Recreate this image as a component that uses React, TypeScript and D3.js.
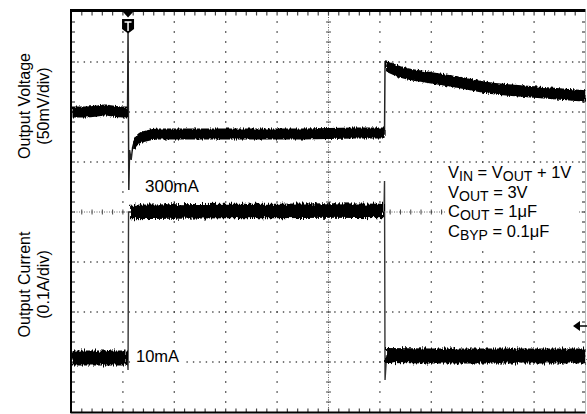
import * as d3 from "d3";

// screen and graticule
const W = 587;
const H = 414;
const X_DIVS = 10;
const Y_DIVS = 8;

// Output voltage (mV from the level before the load step), time in divisions
const voltEdgeT = [0, 1.09, 1.1, 1.115, 1.13, 1.16, 1.19, 1.23, 1.3, 1.45, 6.09, 6.1, 6.13];
const voltEdgeMv = [0, 0, 79, -78, -38, -48, -35, -28, -24, -22, -22, 51, 45];
const voltPreT = [0, 0.25, 0.5, 0.65, 0.8, 1.0, 1.09];
const voltPreMv = [0, 0, 1, 2, 1, 0, 0];
const voltLoadT = [1.2, 1.3, 1.45, 1.7, 2.5, 3.5, 4.5, 5.5, 6.09];
const voltLoadMv = [-34, -27, -24, -22, -22, -22, -22, -21, -21];
const voltRelT = [6.12, 6.4, 6.9, 7.5, 8.0, 8.5, 9.0, 9.5, 10];
const voltRelMv = [46, 40, 35, 30, 25, 22, 20, 18, 16];

// Output current (mA)
const currEdgeT = [0, 1.09, 1.1, 1.11, 1.14, 6.08, 6.09, 6.1, 6.13, 10];
const currEdgeMa = [8, 8, -16, 300, 300, 300, 362, -36, 12, 12];
const currPreT = [0, 0.5, 1.09];
const currPreMa = [8, 8, 8];
const currLoadT = [1.14, 2, 3, 4, 5, 6.08];
const currLoadMa = [300, 301, 302, 302, 303, 302];
const currRelT = [6.12, 7, 8, 9, 10];
const currRelMa = [13, 12, 12, 12, 12];

const zip = (a: number[], b: number[]) => a.map((v, i) => [v, b[i]] as [number, number]);

const x = d3.scaleLinear().domain([0, X_DIVS]).range([71.5, 585.5]);
const yDiv = d3.scaleLinear().domain([-Y_DIVS / 2, Y_DIVS / 2]).range([412, 12]);
const yV = d3.scaleLinear().domain([-300, 100]).range([412, 12]); // 50 mV/div
const yI = d3.scaleLinear().domain([-100, 700]).range([412, 12]); // 0.1 A/div

const FONT = "'Liberation Sans', Arial, Helvetica, sans-serif";

function band(data: [number, number][], y: d3.ScaleLinear<number, number>, hw: number) {
  return d3
    .area<[number, number]>()
    .x((d) => x(d[0]))
    .y0((d) => y(d[1] - hw))
    .y1((d) => y(d[1] + hw))
    .curve(d3.curveMonotoneX)(data) as string;
}

function edge(data: [number, number][], y: d3.ScaleLinear<number, number>) {
  return d3
    .line<[number, number]>()
    .x((d) => x(d[0]))
    .y((d) => y(d[1]))(data) as string;
}

const Graticule = () => {
  const dots: JSX.Element[] = [];
  const left = x(0), right = x(X_DIVS), top = yDiv(Y_DIVS / 2), bottom = yDiv(-Y_DIVS / 2);
  const xStep = (right - left) / X_DIVS;
  const yStep = (bottom - top) / Y_DIVS;

  // vertical dotted lines
  for (let i = 1; i < X_DIVS; i++) {
    if (i === X_DIVS / 2) continue;
    const gx = x(i);
    for (let k = 1; k < Y_DIVS * 5; k++) {
      dots.push(<rect key={`v${i}-${k}`} x={gx - 0.7} y={top + k * (yStep / 5) - 0.7} width={1.4} height={1.4} fill="#333" />);
    }
  }
  // horizontal dotted lines
  for (let j = 1; j < Y_DIVS; j++) {
    if (j === Y_DIVS / 2) continue;
    const gy = top + j * yStep;
    for (let k = 1; k < X_DIVS * 8; k++) {
      dots.push(<rect key={`h${j}-${k}`} x={left + k * (xStep / 8) - 0.7} y={gy - 0.7} width={1.4} height={1.4} fill="#444" />);
    }
  }
  // centre cross with minor ticks, ticks on the frame
  const cx = x(X_DIVS / 2), cy = yDiv(0);
  const ticks: JSX.Element[] = [];
  for (let k = 1; k < X_DIVS * 5; k++) {
    const tx = left + k * (xStep / 5);
    ticks.push(<line key={`ct${k}`} x1={tx} x2={tx} y1={cy - 2.5} y2={cy + 2.5} stroke="#444" strokeWidth={1} />);
    ticks.push(<line key={`tt${k}`} x1={tx} x2={tx} y1={top} y2={top + 3.5} stroke="#444" strokeWidth={1.2} />);
    ticks.push(<line key={`bt${k}`} x1={tx} x2={tx} y1={bottom - 3.5} y2={bottom} stroke="#444" strokeWidth={1.2} />);
  }
  for (let k = 1; k < Y_DIVS * 5; k++) {
    const ty = top + k * (yStep / 5);
    ticks.push(<line key={`cv${k}`} x1={cx - 2.5} x2={cx + 2.5} y1={ty} y2={ty} stroke="#444" strokeWidth={1} />);
    ticks.push(<line key={`lt${k}`} x1={left} x2={left + 3.5} y1={ty} y2={ty} stroke="#444" strokeWidth={1.2} />);
    ticks.push(<line key={`rt${k}`} x1={right - 3.5} x2={right} y1={ty} y2={ty} stroke="#444" strokeWidth={1.2} />);
  }
  return (
    <g>
      {dots}
      <line x1={left} x2={right} y1={cy} y2={cy} stroke="#666" strokeWidth={1} strokeDasharray="1 1.5" />
      <line x1={cx} x2={cx} y1={top} y2={bottom} stroke="#666" strokeWidth={1} strokeDasharray="1 1.5" />
      {ticks}
    </g>
  );
};

export default function App() {
  const left = x(0), right = x(X_DIVS), top = yDiv(Y_DIVS / 2), bottom = yDiv(-Y_DIVS / 2);
  const trigX = x(voltEdgeT[2]);
  return (
    <svg width={W} height={H} style={{ position: "absolute", left: 0, top: 0, background: "#fff" }} fontFamily={FONT}>
      <defs>
        <filter id="noise" x="-2%" y="-80%" width="104%" height="260%">
          <feTurbulence type="fractalNoise" baseFrequency="1.1 0.12" numOctaves={2} seed={4} result="t" />
          <feDisplacementMap in="SourceGraphic" in2="t" scale={7} xChannelSelector="R" yChannelSelector="G" />
        </filter>
        <filter id="noiseV" x="-2%" y="-80%" width="104%" height="260%">
          <feTurbulence type="fractalNoise" baseFrequency="1.1 0.12" numOctaves={2} seed={9} result="t" />
          <feDisplacementMap in="SourceGraphic" in2="t" scale={4} xChannelSelector="R" yChannelSelector="G" />
        </filter>
      </defs>
      <rect x={0} y={0} width={W} height={H} fill="#fff" />
      <Graticule />

      {/* text backgrounds hide the graticule */}
      <rect x={446} y={164} width={132} height={80} fill="#fff" />
      <rect x={134} y={348} width={48} height={17} fill="#fff" />

      {/* frame */}
      <line x1={left - 1} x2={right} y1={10.5} y2={10.5} stroke="#000" strokeWidth={3} />
      <line x1={left - 0.5} x2={left - 0.5} y1={9} y2={bottom + 1} stroke="#000" strokeWidth={2} />
      <line x1={left - 1} x2={right} y1={bottom + 0.5} y2={bottom + 0.5} stroke="#000" strokeWidth={2} />
      <line x1={right} x2={right} y1={top} y2={bottom} stroke="#bbb" strokeWidth={1} />

      {/* traces: fast edges */}
      <path d={edge(zip(voltEdgeT, voltEdgeMv), yV)} fill="none" stroke="#222" strokeWidth={1.5} />
      <path d={edge(zip(currEdgeT, currEdgeMa), yI)} fill="none" stroke="#333" strokeWidth={1.4} />

      {/* traces: noisy bands */}
      <g filter="url(#noiseV)" fill="#000">
        <path d={band(zip(voltPreT, voltPreMv), yV, 5.6)} />
        <path d={band(zip(voltLoadT, voltLoadMv), yV, 5.6)} />
        <path d={band(zip(voltRelT, voltRelMv), yV, 5.8)} />
      </g>
      <g filter="url(#noise)" fill="#000">
        <path d={band(zip(currPreT, currPreMa), yI, 15)} />
        <path d={band(zip(currLoadT, currLoadMa), yI, 14.5)} />
        <path d={band(zip(currRelT, currRelMa), yI, 15)} />
      </g>

      {/* trigger markers */}
      <path d={`M${trigX - 5},12 L${trigX + 5},12 L${trigX},17.5 Z`} fill="#000" />
      <path d={`M${trigX - 6},19 L${trigX + 6},19 L${trigX + 6},29 L${trigX},33.5 L${trigX - 6},29 Z`} fill="#000" />
      <path d={`M${trigX - 3.5},22 L${trigX + 3.5},22 M${trigX},22 L${trigX},31`} stroke="#fff" strokeWidth={1.5} />
      <path d={`M573,326 L580,321 L580,331 Z`} fill="#000" />
      <line x1={578} x2={587} y1={326} y2={326} stroke="#000" strokeWidth={1.5} />

      {/* annotations */}
      <text x={145} y={192} fontSize={17} fill="#000">300mA</text>
      <text x={136} y={362} fontSize={16.5} fill="#000">10mA</text>

      <g fontSize={16.5} fill="#000">
        <text x={448} y={177.5}>
          V<tspan fontSize={14} dy={3}>IN</tspan>
          <tspan dy={-3}> = V</tspan>
          <tspan fontSize={14} dy={3}>OUT</tspan>
          <tspan dy={-3}> + 1V</tspan>
        </text>
        <text x={448} y={197.5}>
          V<tspan fontSize={14} dy={3}>OUT</tspan>
          <tspan dy={-3}> = 3V</tspan>
        </text>
        <text x={448} y={217}>
          C<tspan fontSize={14} dy={3}>OUT</tspan>
          <tspan dy={-3}> = 1μF</tspan>
        </text>
        <text x={448} y={236.5}>
          C<tspan fontSize={14} dy={3}>BYP</tspan>
          <tspan dy={-3}> = 0.1μF</tspan>
        </text>
      </g>

      {/* channel labels */}
      <g fontSize={16} fill="#000" textAnchor="middle">
        <text transform="translate(30,106) rotate(-90)">Output Voltage</text>
        <text transform="translate(49,106) rotate(-90)">(50mV/div)</text>
        <text transform="translate(30,284.5) rotate(-90)">Output Current</text>
        <text transform="translate(49,284.5) rotate(-90)">(0.1A/div)</text>
      </g>
    </svg>
  );
}
